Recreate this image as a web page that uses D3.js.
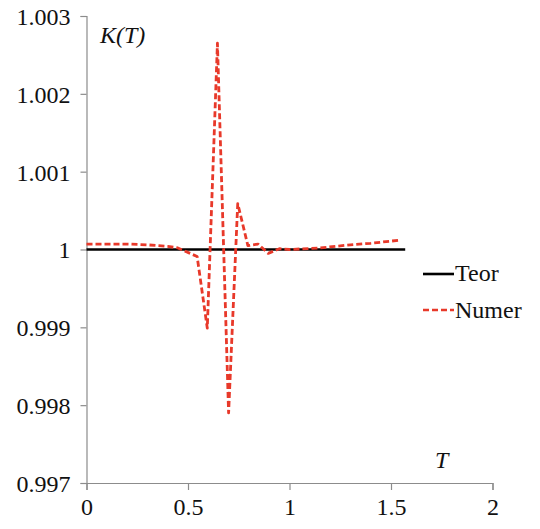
<!DOCTYPE html>
<html><head><meta charset="utf-8">
<script src="https://cdn.jsdelivr.net/npm/d3@7"></script>
<style>body{margin:0;background:#fff}svg{display:block}
svg text{font-family:"Liberation Serif","Tinos","Times New Roman","Times","Nimbus Roman","Nimbus Roman No9 L","FreeSerif","DejaVu Serif","Noto Serif","Noto Serif CJK SC",serif;}
</style>
</head><body>
<svg id="c" width="540" height="529"></svg>
<script>
const xTicks = [0, 0.5, 1, 1.5, 2];
const yTicks = [0.997, 0.998, 0.999, 1, 1.001, 1.002, 1.003];
const yTickLabels = ["0.997", "0.998", "0.999", "1", "1.001", "1.002", "1.003"];
const teorT = [0, 1.57];
const teorK = [1, 1];
const numerT = [0, 0.1, 0.2, 0.3, 0.4, 0.45, 0.545, 0.595, 0.645, 0.7, 0.745, 0.795, 0.845, 0.895, 0.95, 1.0, 1.15, 1.3, 1.4, 1.545];
const numerK = [1.00007, 1.00007, 1.00007, 1.00006, 1.00004, 1.00002, 0.99991, 0.99899, 1.00265, 0.99790, 1.00059, 1.00005, 1.00007, 0.99995, 1.00001, 1.00000, 1.00002, 1.00006, 1.00008, 1.00012];
const seriesNames = ["Teor", "Numer"];

const svg = d3.select("#c");
const x = d3.scaleLinear().domain([0, 2]).range([86.5, 492.5]);
const y = d3.scaleLinear().domain([0.997, 1.003]).range([483, 16]);
const axisColor = "#8c8c8c";

// y axis
const gy = svg.append("g").attr("transform", `translate(${x(0)},0)`)
  .call(d3.axisLeft(y).tickValues(yTicks).tickSize(6).tickPadding(10)
    .tickFormat((d, i) => yTickLabels[i]));
gy.attr("font-family", null);
gy.select(".domain").attr("stroke", axisColor).attr("stroke-width", 1.2);
gy.selectAll(".tick line").attr("stroke", axisColor).attr("stroke-width", 1.2);
gy.selectAll(".tick text").style("font-size", "24px").attr("fill", "#111").attr("dy", "0.35em");

// x axis
const gx = svg.append("g").attr("transform", `translate(0,${y(0.997)})`)
  .call(d3.axisBottom(x).tickValues(xTicks).tickSize(7).tickPadding(8).tickFormat(d3.format("")));
gx.attr("font-family", null);
gx.select(".domain").attr("stroke", axisColor).attr("stroke-width", 1.2);
gx.selectAll(".tick line").attr("stroke", axisColor).attr("stroke-width", 1.2);
gx.selectAll(".tick text").style("font-size", "24px").attr("fill", "#111").attr("dy", "0.72em");

const line = d3.line().x(d => x(d[0])).y(d => y(d[1]));

svg.append("path").datum(teorT.map((t, i) => [t, teorK[i]]))
  .attr("d", line).attr("fill", "none").attr("stroke", "#000").attr("stroke-width", 2.6);

svg.append("path").datum(numerT.map((t, i) => [t, numerK[i]]))
  .attr("d", line).attr("fill", "none").attr("stroke", "#e8392a").attr("stroke-width", 2.8)
  .attr("stroke-dasharray", "6,3").attr("stroke-linejoin", "round");

// axis titles
svg.append("text").attr("x", 100).attr("y", 42.5).style("font-style", "italic")
  .style("font-size", "24px").attr("fill", "#111").text("K(T)");
svg.append("text").attr("x", 435).attr("y", 468).style("font-style", "italic")
  .style("font-size", "24px").attr("fill", "#111").text("T");

// legend
const leg = svg.append("g");
leg.append("line").attr("x1", 423).attr("x2", 454).attr("y1", 274).attr("y2", 274)
  .attr("stroke", "#000").attr("stroke-width", 2.6);
leg.append("text").attr("x", 455).attr("y", 281).style("font-size", "24px")
  .attr("fill", "#111").text(seriesNames[0]);
leg.append("line").attr("x1", 423).attr("x2", 454).attr("y1", 310).attr("y2", 310)
  .attr("stroke", "#e8392a").attr("stroke-width", 2.6).attr("stroke-dasharray", "6,3");
leg.append("text").attr("x", 455).attr("y", 318).style("font-size", "24px")
  .attr("fill", "#111").text(seriesNames[1]);
</script>
</body></html>
